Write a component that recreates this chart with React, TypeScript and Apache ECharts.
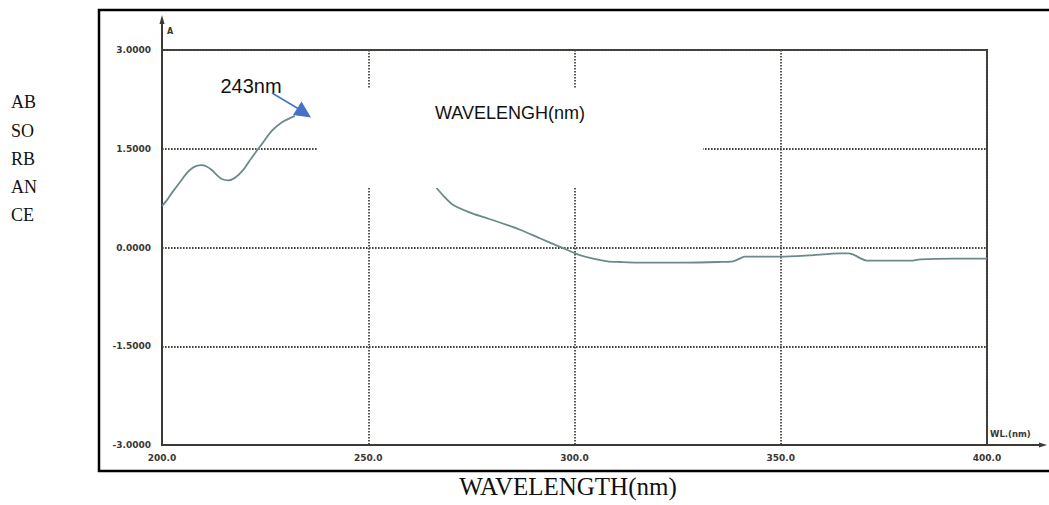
import React, { useEffect, useRef } from "react";
import * as echarts from "echarts";

const wavelengths = [
  200, 201.2, 202.4, 203.6, 204.8, 206, 207.2, 208.4, 209.6, 210.8, 212, 213.3, 214.5, 216.1, 217.7, 219.7,
  221.7, 224.2, 226.6, 229, 232.2,
  245,
  266.2, 268.3, 270.5, 274.7, 278, 281.9, 286.8, 291.6, 296.5, 300.6, 304.5, 308, 311, 315, 319, 327, 335,
  338.4, 340, 341.3, 350, 357, 364.4, 366.5, 368, 369.5, 370.9, 376, 382, 383.8, 392, 400,
];
const absorbance: (number | null)[] = [
  0.63, 0.72, 0.83, 0.93, 1.03, 1.13, 1.2, 1.24, 1.25, 1.23, 1.18, 1.1, 1.04, 1.02, 1.06, 1.18,
  1.36, 1.57, 1.77, 1.9, 2.0,
  null,
  0.93, 0.78, 0.65, 0.53, 0.46, 0.38, 0.27, 0.14, 0.01, -0.1, -0.17, -0.21, -0.22, -0.23, -0.23, -0.23, -0.22,
  -0.21, -0.17, -0.14, -0.14, -0.12, -0.09, -0.09, -0.12, -0.17, -0.2, -0.2, -0.2, -0.18, -0.17, -0.17,
];
const xRange = [200, 400];
const yRange = [-3, 3];
const xStep = 50;
const yStep = 1.5;
const sideLetters = ["AB", "SO", "RB", "AN", "CE"];
const peakLabel = "243nm";
const innerTitle = "WAVELENGH(nm)";
const bottomTitle = "WAVELENGTH(nm)";
const yName = "A";
const xName = "WL.(nm)";

const AXIS = "#3d3935";
const GRIDC = "#4a4642";
const LABELC = "#3a3633";

export default function App() {
  const ref = useRef<HTMLDivElement>(null);
  useEffect(() => {
    const chart = echarts.init(ref.current!, null, { renderer: "svg" });
    const sideY = [102, 130.5, 159, 187, 214.5];
    const tickFont = {
      fontFamily: "DejaVu Sans",
      fontWeight: "bold",
      fontSize: 9,
      color: LABELC,
    };
    chart.setOption({
      animation: false,
      backgroundColor: "#ffffff",
      grid: {
        left: 162,
        right: 62,
        top: 50,
        bottom: 60,
        show: true,
        borderColor: AXIS,
        borderWidth: 2,
        backgroundColor: "transparent",
        outerBoundsMode: "none",
      },
      xAxis: {
        type: "value",
        min: xRange[0],
        max: xRange[1],
        interval: xStep,
        axisLine: { show: true, onZero: false, lineStyle: { color: AXIS, width: 2 } },
        axisTick: { show: false },
        axisLabel: { ...tickFont, formatter: (v: number) => v.toFixed(1), margin: 8 },
        splitLine: { show: true, lineStyle: { color: GRIDC, type: [1.6, 1.4], width: 1.8 } },
      },
      yAxis: {
        type: "value",
        min: yRange[0],
        max: yRange[1],
        interval: yStep,
        axisLine: { show: true, onZero: false, lineStyle: { color: AXIS, width: 2 } },
        axisTick: { show: false },
        axisLabel: { ...tickFont, formatter: (v: number) => v.toFixed(4), margin: 11 },
        splitLine: { show: true, lineStyle: { color: GRIDC, type: [1.6, 1.4], width: 1.8 } },
      },
      series: [
        {
          type: "line",
          data: wavelengths.map((w, i) => [w, absorbance[i] === null ? "-" : absorbance[i]]),
          showSymbol: false,
          smooth: 0.25,
          connectNulls: false,
          lineStyle: { color: "#6b8a8b", width: 1.8 },
          z: 3,
        },
      ],
      graphic: [
        {
          type: "rect",
          shape: { x: 99, y: 10, width: 1000, height: 461 },
          style: { fill: "none", stroke: "#000", lineWidth: 2.5 },
          z: 5,
        },
        {
          type: "rect",
          shape: { x: 317, y: 89, width: 386, height: 99 },
          style: { fill: "#ffffff" },
          z: 10,
        },
        {
          type: "line",
          shape: { x1: 162, y1: 50, x2: 162, y2: 22 },
          style: { stroke: AXIS, lineWidth: 2 },
          z: 6,
        },
        {
          type: "polygon",
          shape: { points: [[162, 15], [159.5, 24], [164.5, 24]] },
          style: { fill: AXIS },
          z: 6,
        },
        {
          type: "text",
          x: 167,
          y: 31,
          style: { text: yName, font: "bold 8px DejaVu Sans", fill: LABELC, verticalAlign: "middle" },
          z: 20,
        },
        {
          type: "line",
          shape: { x1: 987, y1: 445, x2: 1040, y2: 445 },
          style: { stroke: AXIS, lineWidth: 2 },
          z: 6,
        },
        {
          type: "polygon",
          shape: { points: [[1047, 445], [1039, 442.5], [1039, 447.5]] },
          style: { fill: AXIS },
          z: 6,
        },
        {
          type: "text",
          x: 990,
          y: 434,
          style: { text: xName, font: "bold 8.5px DejaVu Sans", fill: LABELC, verticalAlign: "middle" },
          z: 20,
        },
        {
          type: "text",
          x: 251,
          y: 86,
          style: {
            text: peakLabel,
            font: "20px Liberation Sans",
            fill: "#111",
            align: "center",
            verticalAlign: "middle",
          },
          z: 20,
        },
        {
          type: "line",
          shape: { x1: 272, y1: 93, x2: 298, y2: 108.5 },
          style: { stroke: "#4472c4", lineWidth: 1.5 },
          z: 20,
        },
        {
          type: "polygon",
          shape: { points: [[311, 117.5], [301.5, 101.5], [293, 115]] },
          style: { fill: "#4472c4" },
          z: 20,
        },
        {
          type: "text",
          x: 510,
          y: 113,
          style: {
            text: innerTitle,
            font: "18px Liberation Sans",
            fill: "#111",
            align: "center",
            verticalAlign: "middle",
          },
          z: 20,
        },
        {
          type: "text",
          x: 568,
          y: 486,
          style: {
            text: bottomTitle,
            font: "25px Liberation Serif",
            fill: "#111",
            align: "center",
            verticalAlign: "middle",
          },
          z: 20,
        },
        ...sideLetters.map((t, i) => ({
          type: "text",
          x: 11,
          y: sideY[i],
          style: { text: t, font: "18px Liberation Serif", fill: "#111", verticalAlign: "middle" },
          z: 20,
        })),
      ],
    });
    return () => chart.dispose();
  }, []);
  return (
    <div
      ref={ref}
      style={{ position: "fixed", left: 0, top: 0, width: 1049, height: 505, background: "#fff" }}
    />
  );
}
